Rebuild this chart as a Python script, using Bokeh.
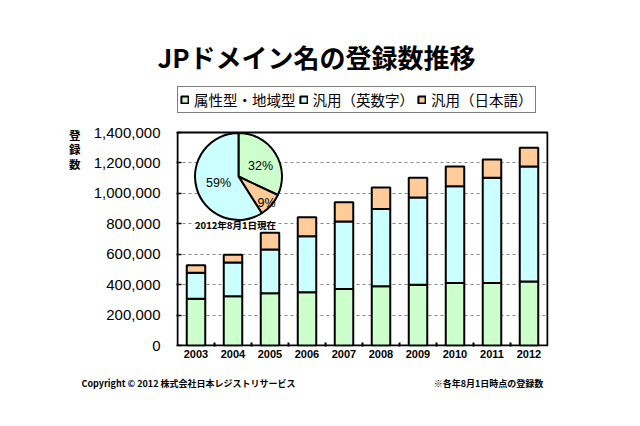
from bokeh.plotting import figure
from bokeh.models import (Range1d, FixedTicker, NumeralTickFormatter, Label,
                          Legend, LegendItem, ColumnDataSource, LinearAxis)
from bokeh.embed import file_html
from bokeh.resources import INLINE
import math

# ---------------- data ----------------
years = [2003, 2004, 2005, 2006, 2007, 2008, 2009, 2010, 2011, 2012]
year_labels = [str(y) for y in years]
attr_geo = [307000, 324000, 344000, 350000, 372000, 390000, 399000, 410000, 410000, 421000]
general_ascii = [171000, 222000, 287000, 368000, 443000, 508000, 574000, 637000, 692000, 755000]
general_jp = [50000, 50000, 110000, 125000, 127000, 140000, 129000, 129000, 120000, 123000]
series_names = ["属性型・地域型", "汎用（英数字）", "汎用（日本語）"]
series_colors = ["#CCFFCC", "#CCFFFF", "#FFCC99"]
y_ticks = [0, 200000, 400000, 600000, 800000, 1000000, 1200000, 1400000]

pie_shares = [32, 9, 59]            # clockwise from 12 o'clock: green, orange, cyan
pie_colors = ["#CCFFCC", "#FFCC99", "#CCFFFF"]
pie_labels = ["32%", "9%", "59%"]

title_text = "JPドメイン名の登録数推移"
y_title = "登録数"
pie_caption = "2012年8月1日現在"
footer_left = "Copyright © 2012 株式会社日本レジストリサービス"
footer_right = "※各年8月1日時点の登録数"

CJK = "Noto Sans CJK JP"
LAT = "Liberation Sans"

# ---------------- layout (picture pixels) ----------------
W, H = 624, 410
BOX_L, BOX_R, BOX_T, BOX_B = 177, 547, 132, 345     # plot box of the bar chart
FRAME_L, FRAME_R = BOX_L - 1, BOX_R + 1              # frame = box + 1px, extended up
FRAME_T, FRAME_B = 86, BOX_B + 1
FW, FH = FRAME_R - FRAME_L, FRAME_B - FRAME_T

X0, X1 = years[0] - 0.5, years[-1] + 0.5
Y0, Y1 = y_ticks[0], y_ticks[-1]
XS = (X1 - X0) / (BOX_R - BOX_L)   # data per px
YS = (Y1 - Y0) / (BOX_B - BOX_T)

def dx(px):
    return X0 + (px - BOX_L) * XS
def dy(py):
    return Y0 + (BOX_B - py) * YS
def fx(px):
    return px - FRAME_L
def fy(py):
    return FRAME_B - py

p = figure(width=W, height=H, output_backend="svg", toolbar_location=None,
           title_location=None,
           x_range=Range1d(dx(FRAME_L), dx(FRAME_R)),
           y_range=Range1d(dy(FRAME_B), dy(FRAME_T)),
           frame_width=FW, frame_height=FH,
           min_border_left=FRAME_L, min_border_right=W - FRAME_R,
           min_border_top=FRAME_T, min_border_bottom=H - FRAME_B)
# pixel-space ranges used only to place the surrounding texts
p.extra_x_ranges = {"px": Range1d(FRAME_L, FRAME_R)}
p.extra_y_ranges = {"py": Range1d(FRAME_B, FRAME_T)}
p.background_fill_color = "white"
p.border_fill_color = "white"
p.outline_line_color = None

p.xgrid.grid_line_color = None
p.ygrid.ticker = FixedTicker(ticks=y_ticks)
p.ygrid.grid_line_color = "#888888"
p.ygrid.grid_line_dash = "3 3"
p.ygrid.grid_line_width = 1

ya = p.yaxis[0]
ya.ticker = FixedTicker(ticks=y_ticks)
ya.formatter = NumeralTickFormatter(format="0,0")
ya.axis_line_color = None
ya.major_tick_out = 0
ya.major_tick_in = 5
ya.major_tick_line_color = "black"
ya.major_tick_line_width = 1.5
ya.minor_tick_line_color = None
ya.major_label_standoff = 16
ya.major_label_text_font = LAT
ya.major_label_text_font_size = "15px"
ya.major_label_text_color = "black"

xa = p.xaxis[0]
xa.ticker = FixedTicker(ticks=years, minor_ticks=[y + 0.5 for y in years[:-1]])
xa.major_label_overrides = {y: s for y, s in zip(years, year_labels)}
xa.axis_line_color = None
xa.major_tick_in = 0
xa.major_tick_out = 0
xa.minor_tick_in = 4
xa.minor_tick_out = 0
xa.minor_tick_line_color = "black"
xa.minor_tick_line_width = 2
xa.major_label_standoff = 3
xa.major_label_text_font = LAT
xa.major_label_text_font_style = "bold"
xa.major_label_text_font_size = "11px"
xa.major_label_text_color = "black"

# plot box of the bar chart (x range of the categories, y range of the ticks)
p.quad(left=[X0], right=[X1], bottom=[Y0], top=[Y1], fill_color=None,
       line_color="black", line_width=2)

src = ColumnDataSource(dict(year=years, a=attr_geo, b=general_ascii, c=general_jp))
rs = p.vbar_stack(["a", "b", "c"], x="year", width=0.5, source=src,
                  fill_color=series_colors, line_color="black", line_width=2)

# legend inside the (extended) frame
LEG_L, LEG_B = 177, 113
legend = Legend(items=[LegendItem(label=n, renderers=[r]) for n, r in zip(series_names, rs)],
                orientation="horizontal",
                location=(fx(LEG_L), FRAME_B - LEG_B),
                glyph_width=9, glyph_height=9, label_height=19,
                label_standoff=5, spacing=3, padding=2, margin=0,
                label_text_font=CJK, label_text_font_size="14.5px",
                label_text_color="black",
                border_line_color="black", border_line_width=1.5,
                background_fill_color="white", background_fill_alpha=1.0)
p.add_layout(legend, "center")

# chart title (text axis above the frame)
TITLE_X = 316
title_axis = LinearAxis(x_range_name="px", ticker=FixedTicker(ticks=[TITLE_X]),
                        major_label_overrides={TITLE_X: title_text},
                        axis_line_color=None, major_tick_line_color=None,
                        minor_tick_line_color=None, major_tick_out=0, major_tick_in=0,
                        major_label_standoff=12,
                        major_label_text_font=CJK, major_label_text_font_style="bold",
                        major_label_text_font_size="26px", major_label_text_color="black")
p.add_layout(title_axis, "above")

# vertical y-axis title, one character per line (text axis left of the y axis)
ychar_pos = [134, 148.5, 163]
ytitle_axis = LinearAxis(y_range_name="py", ticker=FixedTicker(ticks=ychar_pos),
                         major_label_overrides={v: c for v, c in zip(ychar_pos, y_title)},
                         axis_line_color=None, major_tick_line_color=None,
                         minor_tick_line_color=None, major_tick_out=0, major_tick_in=0,
                         major_label_standoff=10,
                         major_label_text_font=CJK, major_label_text_font_style="bold",
                         major_label_text_font_size="11.5px", major_label_text_color="black")
p.add_layout(ytitle_axis, "left")

# footers (text axis below the x axis)
FOOT_L_X, FOOT_R_X = 188, 488
footer_axis = LinearAxis(x_range_name="px", ticker=FixedTicker(ticks=[FOOT_L_X, FOOT_R_X]),
                         major_label_overrides={FOOT_L_X: footer_left, FOOT_R_X: footer_right},
                         axis_line_color=None, major_tick_line_color=None,
                         minor_tick_line_color=None, major_tick_out=0, major_tick_in=0,
                         major_label_standoff=16,
                         major_label_text_font=CJK, major_label_text_font_style="bold",
                         major_label_text_font_size="9px", major_label_text_color="black")
p.add_layout(footer_axis, "below")

# pie inset
cx, cy, rad = dx(238), dy(176), 43.5
starts, ends, cum = [], [], 0.0
for s in pie_shares:
    starts.append(math.pi / 2 - cum / 100 * 2 * math.pi)
    cum += s
    ends.append(math.pi / 2 - cum / 100 * 2 * math.pi)
p.wedge(x=[cx] * 3, y=[cy] * 3, radius=rad, radius_units="screen",
        start_angle=starts, end_angle=ends, direction="clock",
        fill_color=pie_colors, line_color="black", line_width=2)

pie_label_pos = [(260, 165), (266, 202), (218, 182)]
for t, (px, py) in zip(pie_labels, pie_label_pos):
    p.add_layout(Label(x=fx(px), y=fy(py), x_units="screen", y_units="screen",
                       text=t, text_font=LAT, text_font_size="12.5px",
                       text_align="center", text_baseline="middle", text_color="black"))
p.add_layout(Label(x=fx(235), y=fy(224), x_units="screen", y_units="screen",
                   text=pie_caption, text_font=CJK, text_font_style="bold",
                   text_font_size="9.5px", text_align="center", text_baseline="middle",
                   text_color="black"))

open("out.html", "w").write(file_html(p, INLINE))
